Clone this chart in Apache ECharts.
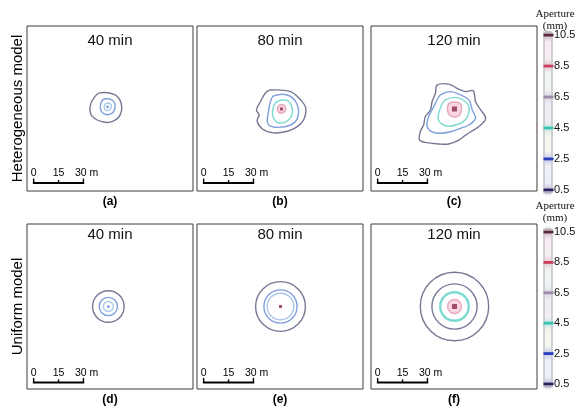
<!DOCTYPE html>
<html>
<head>
<meta charset="utf-8">
<script src="https://cdn.jsdelivr.net/npm/echarts@6/dist/echarts.min.js"></script>
<style>
  html, body { margin: 0; padding: 0; background: #fff; }
  #chart { width: 579px; height: 411px; }
</style>
</head>
<body>
<div id="chart"></div>
<script>
// panel texts
const panelTitles = ['40 min', '80 min', '120 min', '40 min', '80 min', '120 min'];
const panelTags = ['(a)', '(b)', '(c)', '(d)', '(e)', '(f)'];
const rowNames = ['Heterogeneous model', 'Uniform model'];

// colour bar, aperture in mm
const apertureLevels = [0.5, 2.5, 4.5, 6.5, 8.5, 10.5];
const apertureColors = ['#2b205e', '#2e3fbd', '#38c6b3', '#9c8aa8', '#c93f5c', '#5a2a3b'];
const apertureTints = ['#eef0f9', '#f7f8ef', '#f0ecf4', '#eff6f2', '#f7ecf1'];

// contour line colour for each aperture value
const contourColors = {
  0.5: '#686888', 1.5: '#6a6a90', 2.5: '#7393d9', 3.5: '#a2c3ea',
  4.5: '#6fd6cc', 6.5: '#e3a0ba', 10.5: '#8c2a47'
};

// heterogeneous model contours, points in metres [x, y]
const hetA05 = [[43.9, 59.5], [52.8, 58.4], [56.6, 53.5], [56.3, 46.6], [52.0, 42.4], [46.1, 41.8], [39.2, 45.4], [38.0, 51.2], [40.4, 56.6]];
const hetA25 = [[46.0, 55.5], [51.5, 55.0], [53.0, 51.0], [51.0, 47.0], [46.5, 46.8], [44.2, 50.5]];
const hetA35 = [[47.5, 53.0], [50.0, 53.0], [50.8, 51.0], [49.5, 49.0], [47.2, 49.2], [46.5, 51.0]];

const hetB05 = [[44.2, 61.2], [56.4, 60.2], [62.4, 55.2], [65.5, 50.3], [64.2, 43.0], [60.4, 39.0], [54.4, 36.2], [46.1, 35.2], [39.4, 37.6], [36.2, 42.5], [37.4, 46.1], [35.8, 49.1], [38.2, 54.1], [41.2, 59.4]];
const hetB25 = [[46.2, 57.6], [54.4, 58.2], [60.0, 53.2], [60.8, 45.0], [56.4, 40.0], [47.3, 38.6], [42.6, 41.0], [43.2, 49.1], [44.2, 54.1]];
const hetB45 = [[48.0, 54.0], [55.0, 54.5], [57.5, 48.0], [54.5, 42.5], [48.5, 41.5], [45.5, 46.5]];
const hetB65 = [[49.5, 52.0], [52.5, 52.0], [53.5, 49.5], [52.0, 47.5], [49.5, 47.5], [48.5, 49.5]];

const hetC05 = [[39.8, 64.2], [46.8, 64.8], [51.9, 62.2], [57.0, 60.2], [61.6, 60.8], [63.0, 54.1], [66.1, 49.1], [69.1, 44.1], [66.1, 40.0], [62.0, 37.0], [57.0, 33.9], [52.9, 30.9], [46.8, 28.5], [40.8, 28.5], [33.8, 29.3], [29.3, 30.9], [29.7, 35.9], [31.7, 40.0], [32.7, 45.0], [35.8, 49.1], [36.8, 54.1], [38.8, 59.2]];
const hetC25 = [[41.8, 58.2], [47.9, 60.2], [53.9, 58.2], [59.0, 55.2], [61.0, 49.1], [63.0, 44.1], [59.0, 40.0], [53.9, 38.0], [47.9, 35.9], [41.8, 35.0], [36.8, 35.9], [33.8, 39.0], [34.7, 45.0], [37.8, 51.1], [39.8, 55.2]];
const hetC45 = [[44.8, 55.2], [52.7, 56.4], [58.8, 51.5], [57.6, 44.2], [52.7, 40.6], [45.5, 39.4], [40.6, 43.0], [41.8, 50.3]];
const hetC65 = [[47.3, 53.3], [53.3, 53.3], [54.5, 49.1], [52.7, 45.5], [47.9, 45.5], [46.1, 49.1]];

// uniform model rings: [cx, cy, radius m, aperture]
const uniD = [[49.0, 50.0, 9.5, 0.5], [49.0, 50.0, 5.5, 2.5], [49.0, 50.0, 3.0, 3.5]];
const uniE = [[50.3, 50.0, 15.0, 0.5], [50.3, 50.0, 10.0, 2.5], [50.3, 50.0, 8.0, 3.5]];
const uniF = [[50.3, 50.0, 20.6, 0.5], [50.3, 50.0, 13.6, 1.5], [50.3, 50.0, 8.6, 4.5], [50.3, 50.0, 4.2, 6.5]];

// injection point of each panel and its aperture
const centerDots = [[48.5, 51.0], [50.9, 49.7], [50.3, 49.7], [49.0, 50.0], [50.3, 50.0], [50.3, 50.0]];
const centerDotLevels = [2.5, 10.5, 10.5, 2.5, 10.5, 10.5];

// scale bar
const scaleTicks = [0, 15, 30];
const scaleLabels = ['0', '15', '30 m'];

const hetContours = [
  [{ level: 0.5, pts: hetA05 }, { level: 2.5, pts: hetA25 }, { level: 3.5, pts: hetA35 }],
  [{ level: 0.5, pts: hetB05 }, { level: 2.5, pts: hetB25 }, { level: 4.5, pts: hetB45 }, { level: 6.5, pts: hetB65 }],
  [{ level: 0.5, pts: hetC05 }, { level: 2.5, pts: hetC25 }, { level: 4.5, pts: hetC45 }, { level: 6.5, pts: hetC65 }]
];
const uniRings = [uniD, uniE, uniF];

const FONT = "'Liberation Sans', Arial, sans-serif";
const SERIF = "'Liberation Serif', 'Times New Roman', serif";
const panelW = 166, panelH = 165;
const panelLefts = [27, 197, 371];
const rowTops = [26, 224];
const titleTops = [33, 227];
const pinkFill = '#f7d2df';

function rgba(hex, a) {
  const n = parseInt(hex.slice(1), 16);
  return 'rgba(' + (n >> 16) + ',' + ((n >> 8) & 255) + ',' + (n & 255) + ',' + a + ')';
}

const grids = [], xAxes = [], yAxes = [], titles = [], series = [];

for (let i = 0; i < 6; i++) {
  const row = Math.floor(i / 3), col = i % 3;
  grids.push({
    left: panelLefts[col], top: rowTops[row], width: panelW, height: panelH,
    show: true, borderColor: '#3c3c3c', borderWidth: 1, backgroundColor: 'transparent'
  });
  xAxes.push({
    type: 'value', gridIndex: i, min: 0, max: 100,
    name: panelTags[i], nameLocation: 'middle', nameGap: 5,
    nameTextStyle: { fontFamily: FONT, fontWeight: 'bold', fontSize: 12, color: '#000' },
    axisLine: { show: false }, axisTick: { show: false }, axisLabel: { show: false }, splitLine: { show: false }
  });
  yAxes.push({
    type: 'value', gridIndex: i, min: 0, max: 100,
    name: col === 0 ? rowNames[row] : '', nameLocation: 'middle', nameGap: 2,
    nameTextStyle: { fontFamily: FONT, fontSize: 15, color: '#000' },
    axisLine: { show: false }, axisTick: { show: false }, axisLabel: { show: false }, splitLine: { show: false }
  });
  titles.push({
    text: panelTitles[i], left: panelLefts[col] + panelW / 2, top: titleTops[row], textAlign: 'center', padding: 0,
    textStyle: { fontFamily: FONT, fontSize: 15, fontWeight: 'normal', color: '#111' }
  });

  if (row === 0) {
    const list = hetContours[col];
    series.push({
      type: 'custom', xAxisIndex: i, yAxisIndex: i, silent: true,
      data: list.map(c => c.pts[0]),
      renderItem: (params, api) => {
        const c = list[params.dataIndex];
        return {
          type: 'polygon',
          shape: { points: c.pts.map(p => api.coord(p)), smooth: 0.35 },
          style: { fill: c.level >= 6.5 ? pinkFill : 'none', stroke: contourColors[c.level], lineWidth: 1.4, opacity: 0.9 }
        };
      }
    });
  } else {
    series.push({
      type: 'custom', xAxisIndex: i, yAxisIndex: i, silent: true,
      data: uniRings[col],
      renderItem: (params, api) => {
        const c = api.coord([api.value(0), api.value(1)]);
        const r = api.size([api.value(2), 0])[0];
        const lv = api.value(3);
        return {
          type: 'circle',
          shape: { cx: c[0], cy: c[1], r: r },
          style: { fill: lv >= 6.5 ? pinkFill : 'none', stroke: contourColors[lv], lineWidth: lv === 4.5 ? 2.4 : 1.4, opacity: 0.9 }
        };
      }
    });
  }

  series.push({
    type: 'scatter', xAxisIndex: i, yAxisIndex: i, silent: true,
    data: [centerDots[i]],
    symbol: centerDotLevels[i] > 5 ? 'rect' : 'circle',
    symbolSize: centerDotLevels[i] > 5 ? (col === 2 ? 5 : 3) : 3,
    itemStyle: { color: contourColors[centerDotLevels[i]] }
  });

  // scale bar
  series.push({
    type: 'custom', xAxisIndex: i, yAxisIndex: i, silent: true,
    data: [[4, row === 0 ? 4.8 : 4.0]],
    renderItem: (params, api) => {
      const x0 = api.value(0), y = api.value(1);
      const p0 = api.coord([x0, y]);
      const p1 = api.coord([x0 + scaleTicks[scaleTicks.length - 1], y]);
      const children = [{
        type: 'line', shape: { x1: p0[0] - 0.75, y1: p0[1], x2: p1[0] + 0.75, y2: p1[1] },
        style: { stroke: '#000', lineWidth: 2 }
      }];
      scaleTicks.forEach((t, k) => {
        const p = api.coord([x0 + t, y]);
        const h = k === 1 ? 3 : 4.5;
        children.push({ type: 'line', shape: { x1: p[0], y1: p[1], x2: p[0], y2: p[1] - h }, style: { stroke: '#000', lineWidth: 1.4 } });
        children.push({
          type: 'text', x: k === 2 ? p[0] - 8.5 : p[0], y: p[1] - 4,
          style: { text: scaleLabels[k], fill: '#000', fontSize: 10.5, fontFamily: FONT, align: k === 2 ? 'left' : 'center', verticalAlign: 'bottom' }
        });
      });
      return { type: 'group', children: children };
    }
  });
}

// colour bars
const barBoxes = [{ top: 32, height: 161 }, { top: 229, height: 158 }];
const barTitleTops = [8, 200];
barBoxes.forEach((b, k) => {
  const gi = 6 + k;
  grids.push({ left: 544, top: b.top, width: 8, height: b.height });
  xAxes.push({ type: 'value', gridIndex: gi, min: 0, max: 1, show: false });
  yAxes.push({
    type: 'value', gridIndex: gi, min: 0.3, max: 10.7, position: 'right',
    axisLine: { show: false }, axisTick: { show: false }, splitLine: { show: false },
    axisLabel: { customValues: apertureLevels, margin: 2, fontSize: 11, fontFamily: FONT, color: '#111' }
  });
  titles.push({
    text: 'Aperture\n(mm)', left: 555, top: barTitleTops[k], textAlign: 'center', padding: 0,
    textStyle: { fontFamily: SERIF, fontSize: 11, fontWeight: 'normal', color: '#111', lineHeight: 12, align: 'center' }
  });
  // background column with faint tints between levels
  series.push({
    type: 'custom', xAxisIndex: gi, yAxisIndex: gi, silent: true,
    data: [[0, 0.3]],
    renderItem: (params, api) => {
      const top = api.coord([0, 10.7]), bot = api.coord([1, 0.3]);
      const span = 10.7 - 0.3;
      const stops = [];
      apertureTints.forEach((t, j) => {
        const mid = (apertureLevels[j] + apertureLevels[j + 1]) / 2;
        stops.push({ offset: (10.7 - mid) / span, color: t });
      });
      stops.reverse();
      return {
        type: 'rect',
        shape: { x: top[0], y: top[1], width: bot[0] - top[0], height: bot[1] - top[1] },
        style: {
          fill: { type: 'linear', x: 0, y: 0, x2: 0, y2: 1, colorStops: stops },
          stroke: '#b4b4c0', lineWidth: 1.2
        }
      };
    }
  });
  series.push({
    type: 'custom', xAxisIndex: gi, yAxisIndex: gi, silent: true,
    data: apertureLevels.map(v => [0, v]),
    renderItem: (params, api) => {
      const v = api.value(1);
      const col = apertureColors[params.dataIndex];
      const p = api.coord([0, v]), q = api.coord([1, v]);
      return {
        type: 'group', children: [
          {
            type: 'rect', shape: { x: p[0] + 1, y: p[1] - 7, width: q[0] - p[0] - 2, height: 14 },
            style: { fill: { type: 'linear', x: 0, y: 0, x2: 0, y2: 1, colorStops: [
              { offset: 0, color: rgba(col, 0) }, { offset: 0.5, color: rgba(col, 0.25) }, { offset: 1, color: rgba(col, 0) }] } }
          },
          {
            type: 'rect', shape: { x: p[0] - 0.5, y: p[1] - 1.4, width: q[0] - p[0] + 2, height: 2.8 },
            style: { fill: col }
          }
        ]
      };
    }
  });
});

const chart = echarts.init(document.getElementById('chart'), null, { renderer: 'canvas' });
chart.setOption({
  animation: false,
  backgroundColor: '#fff',
  title: titles,
  grid: grids,
  xAxis: xAxes,
  yAxis: yAxes,
  series: series
});
</script>
</body>
</html>
